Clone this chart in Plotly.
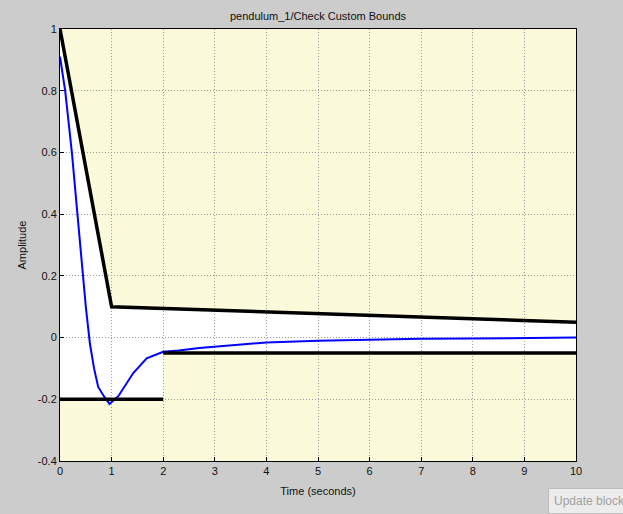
import plotly.graph_objects as go

# bounds
upper_t = [0, 1, 10]
upper_v = [1.0, 0.1, 0.05]
lower_t = [0, 2, None, 2, 10]
lower_v = [-0.2, -0.2, None, -0.05, -0.05]

# response signal
sig_t = [0, 0.1, 0.23, 0.34, 0.43, 0.5, 0.58, 0.66, 0.74, 0.85, 0.96, 1.13, 1.42, 1.68, 2.0,
         2.3, 2.7, 3.0, 3.5, 4.0, 5.0, 6.0, 7.0, 8.0, 9.0, 10.0]
sig_v = [0.91, 0.80, 0.60, 0.40, 0.22, 0.10, -0.02, -0.10, -0.16, -0.19, -0.215, -0.19, -0.115,
         -0.067, -0.046, -0.042, -0.034, -0.030, -0.022, -0.016, -0.010, -0.006, -0.004,
         -0.003, -0.001, 0.0]

x_ticks = list(range(0, 11))
y_ticks = [1, 0.8, 0.6, 0.4, 0.2, 0, -0.2, -0.4]
y_labels = ["1", "0.8", "0.6", "0.4", "0.2", "0", "-0.2", "-0.4"]

# white region between the bounds
up_pts = list(zip(upper_t, upper_v))
lo_pts = [(t, v) for t, v in zip(lower_t, lower_v) if t is not None]
pts = up_pts + lo_pts[::-1]
path = "M " + " L ".join(f"{t},{v}" for t, v in pts) + " Z"

fig = go.Figure()
fig.add_trace(go.Scatter(x=sig_t, y=sig_v, mode="lines",
                         line=dict(color="#0000ff", width=2), showlegend=False))
fig.add_trace(go.Scatter(x=upper_t, y=upper_v, mode="lines",
                         line=dict(color="black", width=3.5), showlegend=False))
fig.add_trace(go.Scatter(x=lower_t, y=lower_v, mode="lines", connectgaps=False,
                         line=dict(color="black", width=3.5), showlegend=False))

fig.add_shape(type="path", path=path, xref="x", yref="y",
              fillcolor="white", line=dict(width=0), layer="below")

font = dict(family="Liberation Sans, Arial, sans-serif", size=11, color="#111")

fig.update_layout(
    width=623, height=514,
    margin=dict(l=60, r=47, t=29, b=53, autoexpand=False),
    paper_bgcolor="#cccccc",
    plot_bgcolor="#fbfbdc",
    font=font,
    title=dict(text="pendulum_1/Check Custom Bounds", x=0.5, xref="paper", xanchor="center",
               y=1 - 16 / 514, yanchor="middle", font=font, automargin=False),
)
fig.update_xaxes(range=[0, 10], tickvals=x_ticks, showline=True, linecolor="black",
                 linewidth=1, mirror=True, ticks="inside", ticklen=4, tickcolor="black",
                 showgrid=True, gridcolor="#9a9a9a", griddash="1px,2px", gridwidth=1,
                 zeroline=False, automargin=False, tickfont=font,
                 title=dict(text="Time (seconds)", standoff=11, font=font))
fig.update_yaxes(range=[-0.4, 1], tickvals=y_ticks, ticktext=y_labels, showline=True,
                 linecolor="black", linewidth=1, mirror=True, ticks="inside", ticklen=4,
                 tickcolor="black", showgrid=True, gridcolor="#9a9a9a", griddash="1px,2px",
                 gridwidth=1, zeroline=False, automargin=False, tickfont=font,
                 title=dict(text="Amplitude", standoff=8, font=font))

fig.add_annotation(text="Update block", xref="paper", yref="paper", x=0.946, y=-0.063,
                   xanchor="left", yanchor="top", showarrow=False,
                   font=dict(family="Liberation Sans, Arial, sans-serif", size=12, color="#a0a0a0"),
                   bgcolor="#ececec", bordercolor="#bdbdbd", borderwidth=1, borderpad=5)

fig.write_html("out.html", config={"displayModeBar": False},
               post_script="document.body.style.margin='0';document.body.style.background='#cccccc';")
